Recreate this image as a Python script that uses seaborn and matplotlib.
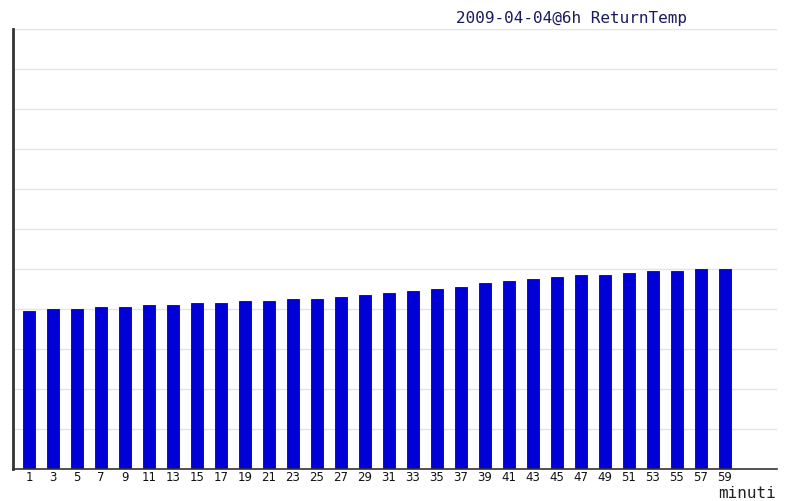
import numpy as np
import pandas as pd
import seaborn as sns
import matplotlib
matplotlib.use("Agg")
import matplotlib.pyplot as plt

# minutes (odd minutes only) and return temperature readings
minutes = [str(m) for m in range(1, 60, 2)]
temps = [19.75, 20.0, 20.0, 20.25, 20.25, 20.5, 20.5, 20.75, 20.75, 21.0,
         21.0, 21.25, 21.25, 21.5, 21.75, 22.0, 22.25, 22.5, 22.75, 23.25,
         23.5, 23.75, 24.0, 24.25, 24.25, 24.5, 24.75, 24.75, 25.0, 25.0]

df = pd.DataFrame({'minuto': minutes, 'temp': temps})

sns.set_style("white")
fig = plt.figure(figsize=(7.86, 5.02), dpi=100)
ax = fig.add_axes([13/786, 1 - 469.5/502, (777 - 13)/786, 440/502])

sns.barplot(data=df, x='minuto', y='temp', order=minutes, color='#0000d6',
            saturation=1, width=0.5, edgecolor='#0000a0', linewidth=0.6, ax=ax)

ax.set_ylim(0, 55)
ax.set_xlim(-0.667, 31.17)
ax.set_yticks(np.arange(5, 56, 5))
ax.yaxis.grid(True, color='#e4e4e4', linewidth=1)
ax.set_axisbelow(True)
ax.set_yticklabels([])
ax.tick_params(axis='y', length=0)
ax.tick_params(axis='x', length=0, pad=1, labelsize=8.5, labelcolor='#111111')

for s in ['top', 'right']:
    ax.spines[s].set_visible(False)
ax.spines['left'].set_color('#333333')
ax.spines['left'].set_linewidth(2)
ax.spines['bottom'].set_color('#333333')
ax.spines['bottom'].set_linewidth(1.2)

ax.set_xlabel('')
ax.set_ylabel('')
fig.text(776/786, 1 - 501/502, 'minuti', ha='right', va='bottom',
         family='DejaVu Sans Mono', fontsize=11.5, color='#222222')
fig.text(572/786, 1 - 18/502, '2009-04-04@6h ReturnTemp', ha='center', va='center',
         family='DejaVu Sans Mono', fontsize=11.5, color='#1a1a60')

plt.savefig('out.png', dpi=100)
